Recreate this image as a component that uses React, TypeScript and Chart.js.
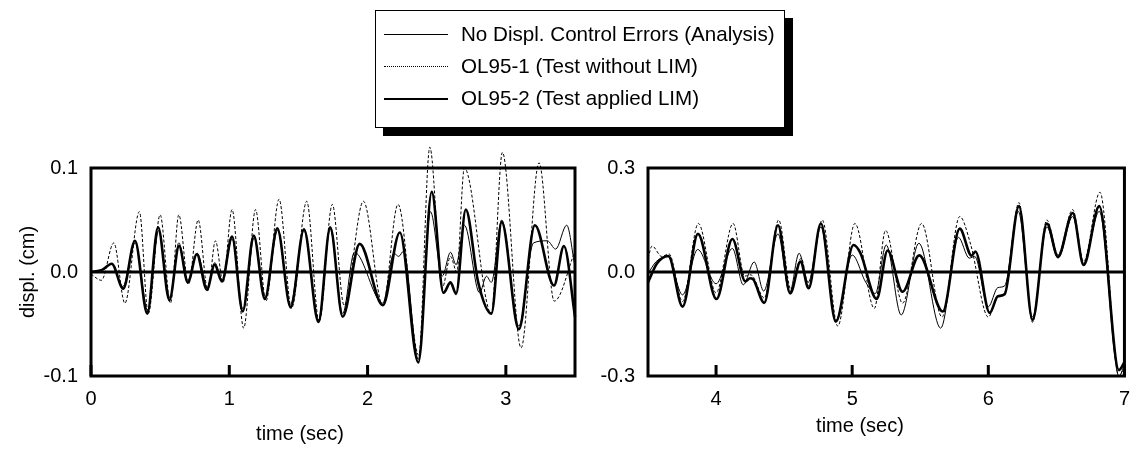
import React, { useEffect, useRef } from "react";
import { Chart, registerables } from "chart.js";

Chart.register(...registerables);

// ---------- Data ----------
// Left panel: 0 – 3.5 s, displ. in cm
const leftAnalysisTime = [0, 0.08, 0.15, 0.23, 0.32, 0.41, 0.49, 0.57, 0.635, 0.70, 0.77, 0.84, 0.895, 0.95, 1.02, 1.10, 1.18, 1.26, 1.35, 1.44, 1.54, 1.645, 1.73, 1.82, 1.905, 2.11, 2.19, 2.225, 2.26, 2.367, 2.455, 2.54, 2.60, 2.64, 2.70, 2.81, 2.86, 2.895, 2.97, 3.094, 3.20, 3.30, 3.36, 3.44, 3.50];
const leftAnalysisDispl = [0, 0.002, 0.008, -0.014, 0.028, -0.037, 0.040, -0.025, 0.028, -0.008, 0.018, -0.015, 0.009, -0.008, 0.032, -0.036, 0.033, -0.024, 0.040, -0.032, 0.040, -0.046, 0.041, -0.040, 0.019, -0.030, 0.018, 0.015, 0.020, -0.084, 0.058, -0.004, 0.019, 0.007, 0.045, -0.020, -0.004, -0.010, 0.050, -0.052, 0.028, 0.030, 0.022, 0.045, 0.005];

const leftOL1Time = [0, 0.075, 0.165, 0.245, 0.35, 0.414, 0.50, 0.575, 0.635, 0.705, 0.775, 0.845, 0.90, 0.955, 1.02, 1.104, 1.19, 1.265, 1.36, 1.45, 1.56, 1.65, 1.745, 1.83, 1.97, 2.11, 2.22, 2.37, 2.45, 2.54, 2.60, 2.645, 2.70, 2.895, 2.975, 3.11, 3.24, 3.35, 3.50];
const leftOL1Displ = [-0.002, -0.008, 0.028, -0.030, 0.058, -0.040, 0.055, -0.030, 0.055, -0.012, 0.050, -0.018, 0.030, -0.010, 0.060, -0.054, 0.060, -0.028, 0.070, -0.035, 0.068, -0.048, 0.065, -0.032, 0.068, -0.032, 0.065, -0.080, 0.120, -0.015, 0.015, 0.000, 0.100, -0.040, 0.115, -0.073, 0.105, -0.028, 0.020];

const leftOL2Time = [0, 0.08, 0.15, 0.233, 0.318, 0.407, 0.485, 0.567, 0.637, 0.70, 0.765, 0.838, 0.894, 0.947, 1.02, 1.097, 1.177, 1.257, 1.347, 1.444, 1.54, 1.645, 1.73, 1.82, 1.943, 2.11, 2.233, 2.367, 2.464, 2.549, 2.60, 2.64, 2.71, 2.80, 2.895, 2.97, 3.094, 3.21, 3.348, 3.42, 3.50];
const leftOL2Displ = [0, 0.002, 0.008, -0.016, 0.030, -0.040, 0.043, -0.027, 0.025, -0.010, 0.017, -0.017, 0.007, -0.009, 0.034, -0.038, 0.035, -0.026, 0.042, -0.034, 0.041, -0.048, 0.043, -0.043, 0.027, -0.032, 0.038, -0.087, 0.077, -0.020, -0.010, -0.021, 0.060, -0.010, -0.040, 0.048, -0.055, 0.045, -0.013, 0.025, -0.043];

// Right panel: 3.5 – 7 s, displ. in cm
const rightAnalysisTime = [3.50, 3.56, 3.645, 3.754, 3.865, 4.0, 4.12, 4.20, 4.28, 4.35, 4.455, 4.54, 4.61, 4.677, 4.77, 4.88, 5.0, 5.10, 5.17, 5.25, 5.36, 5.49, 5.65, 5.78, 5.86, 5.90, 6.0, 6.07, 6.12, 6.22, 6.325, 6.43, 6.512, 6.62, 6.70, 6.815, 6.96, 7.0];
const rightAnalysisDispl = [-0.005, 0.030, 0.045, -0.066, 0.065, -0.034, 0.068, -0.037, 0.029, -0.055, 0.110, -0.060, 0.054, -0.030, 0.130, -0.140, 0.049, -0.030, -0.062, 0.078, -0.124, 0.083, -0.162, 0.100, 0.040, 0.045, -0.100, -0.045, -0.040, 0.175, -0.130, 0.130, 0.040, 0.160, 0.025, 0.175, -0.300, -0.270];

const rightOL1Time = [3.50, 3.53, 3.60, 3.655, 3.754, 3.87, 4.0, 4.125, 4.21, 4.25, 4.27, 4.354, 4.46, 4.55, 4.625, 4.68, 4.78, 4.894, 5.02, 5.163, 5.245, 5.37, 5.51, 5.66, 5.79, 5.87, 6.0, 6.07, 6.12, 6.225, 6.325, 6.43, 6.512, 6.62, 6.70, 6.82, 6.96, 7.0];
const rightOL1Displ = [0.040, 0.075, 0.045, 0.052, -0.085, 0.140, -0.060, 0.140, -0.012, -0.008, -0.012, -0.075, 0.150, -0.050, 0.040, -0.040, 0.150, -0.156, 0.140, -0.105, 0.120, -0.090, 0.140, -0.130, 0.160, 0.080, -0.130, -0.070, -0.060, 0.200, -0.145, 0.150, 0.050, 0.180, 0.030, 0.230, -0.300, -0.270];

const rightOL2Time = [3.50, 3.567, 3.65, 3.754, 3.867, 4.003, 4.12, 4.215, 4.25, 4.27, 4.354, 4.455, 4.545, 4.62, 4.68, 4.77, 4.88, 5.01, 5.06, 5.18, 5.26, 5.37, 5.493, 5.665, 5.79, 5.877, 5.905, 6.01, 6.07, 6.12, 6.225, 6.325, 6.43, 6.512, 6.62, 6.70, 6.815, 6.96, 7.0];
const rightOL2Displ = [-0.030, 0.025, 0.046, -0.100, 0.110, -0.078, 0.095, -0.027, -0.018, -0.020, -0.089, 0.135, -0.062, 0.030, -0.047, 0.140, -0.143, 0.078, 0.055, -0.078, 0.062, -0.057, 0.048, -0.114, 0.125, 0.047, 0.059, -0.118, -0.070, -0.064, 0.190, -0.138, 0.140, 0.044, 0.170, 0.020, 0.190, -0.283, -0.260];

// Axes
const leftXRange = [0, 3.5];
const rightXRange = [3.5, 7];
const leftXTicks = [0, 1, 2, 3];
const rightXTicks = [4, 5, 6, 7];
const leftYTicks = [-0.1, 0, 0.1];
const rightYTicks = [-0.3, 0, 0.3];

const legendLabels = [
  "No Displ. Control Errors (Analysis)",
  "OL95-1 (Test without LIM)",
  "OL95-2 (Test applied LIM)",
];
const xTitle = "time (sec)";
const yTitle = "displ. (cm)";

const FONT = "'Liberation Sans', Arial, Helvetica, sans-serif";
Chart.defaults.font.family = FONT;
Chart.defaults.color = "#000";

const framePlugin = {
  id: "frame",
  afterDatasetsDraw(chart: any) {
    const { ctx, chartArea: a, scales } = chart;
    const xs = scales.x;
    const ys = scales.y;
    ctx.save();
    ctx.strokeStyle = "#000";
    ctx.lineWidth = 3;
    const y0 = ys.getPixelForValue(0);
    ctx.beginPath();
    ctx.moveTo(a.left, y0);
    ctx.lineTo(a.right, y0);
    ctx.stroke();
    xs.ticks.forEach((t: any) => {
      const px = xs.getPixelForValue(t.value);
      ctx.beginPath();
      ctx.moveTo(px, a.bottom);
      ctx.lineTo(px, a.bottom - 11);
      ctx.stroke();
    });
    ctx.strokeRect(a.left, a.top, a.right - a.left, a.bottom - a.top);
    ctx.restore();
  },
};

function pts(t: number[], v: number[]) {
  return t.map((x, i) => ({ x, y: v[i] }));
}

function makeConfig(p: {
  series: { t: number[]; v: number[] }[];
  xRange: number[];
  xTicks: number[];
  yTicks: number[];
  yWidth: number;
  yTitle?: string;
  padRight: number;
}) {
  const styles = [
    { borderWidth: 1, borderDash: [] as number[] },
    { borderWidth: 1, borderDash: [3, 2] },
    { borderWidth: 2.6, borderDash: [] as number[] },
  ];
  const yMax = p.yTicks[p.yTicks.length - 1];
  return {
    type: "line" as const,
    data: {
      datasets: p.series.map((s, i) => ({
        label: legendLabels[i],
        data: pts(s.t, s.v),
        borderColor: "#000",
        borderWidth: styles[i].borderWidth,
        borderDash: styles[i].borderDash,
        pointRadius: 0,
        fill: false,
        cubicInterpolationMode: "monotone" as const,
        clip: false as any,
      })),
    },
    options: {
      responsive: false,
      animation: false as const,
      devicePixelRatio: 1,
      layout: { padding: { top: 168, right: p.padRight, left: 0, bottom: 0 } },
      plugins: { legend: { display: false }, tooltip: { enabled: false } },
      scales: {
        x: {
          type: "linear" as const,
          min: p.xRange[0],
          max: p.xRange[1],
          grid: { display: false, drawTicks: false },
          border: { display: false },
          afterBuildTicks: (s: any) => {
            s.ticks = p.xTicks.map((value) => ({ value }));
          },
          afterFit: (s: any) => {
            s.height = 77;
          },
          ticks: {
            padding: 11,
            font: { size: 20 },
            color: "#000",
            maxRotation: 0,
            callback: (v: any) => String(v),
          },
        },
        y: {
          type: "linear" as const,
          min: -yMax,
          max: yMax,
          grid: { display: false, drawTicks: false },
          border: { display: false },
          afterBuildTicks: (s: any) => {
            s.ticks = p.yTicks.map((value) => ({ value }));
          },
          afterFit: (s: any) => {
            s.width = p.yWidth;
          },
          title: p.yTitle
            ? { display: true, text: p.yTitle, font: { size: 20 }, color: "#000", padding: { top: 16, bottom: 0 } }
            : { display: false },
          ticks: {
            padding: 13,
            font: { size: 20 },
            color: "#000",
            callback: (v: any) => Number(v).toFixed(1),
          },
        },
      },
    },
    plugins: [framePlugin],
  };
}

function Panel(props: { left: number; width: number; config: any }) {
  const ref = useRef<HTMLCanvasElement | null>(null);
  useEffect(() => {
    if (!ref.current) return;
    const chart = new Chart(ref.current, props.config);
    return () => chart.destroy();
  }, []);
  return (
    <canvas
      ref={ref}
      width={props.width}
      height={453}
      style={{ position: "absolute", left: props.left, top: 0, width: props.width, height: 453 }}
    />
  );
}

export default function App() {
  const leftConfig = makeConfig({
    series: [
      { t: leftAnalysisTime, v: leftAnalysisDispl },
      { t: leftOL1Time, v: leftOL1Displ },
      { t: leftOL2Time, v: leftOL2Displ },
    ],
    xRange: leftXRange,
    xTicks: leftXTicks,
    yTicks: leftYTicks,
    yWidth: 91,
    yTitle,
    padRight: 25,
  });
  const rightConfig = makeConfig({
    series: [
      { t: rightAnalysisTime, v: rightAnalysisDispl },
      { t: rightOL1Time, v: rightOL1Displ },
      { t: rightOL2Time, v: rightOL2Displ },
    ],
    xRange: rightXRange,
    xTicks: rightXTicks,
    yTicks: rightYTicks,
    yWidth: 48,
    padRight: 5,
  });

  const lineStyles = [
    { borderTop: "1px solid #000" },
    { borderTop: "1px dotted #000" },
    { borderTop: "2.5px solid #000" },
  ];

  return (
    <div
      style={{
        position: "fixed",
        left: 0,
        top: 0,
        width: 1141,
        height: 453,
        background: "#fff",
        overflow: "hidden",
        fontFamily: FONT,
      }}
    >
      <Panel left={0} width={600} config={leftConfig} />
      <Panel left={600} width={541} config={rightConfig} />
      <div
        style={{
          position: "absolute",
          left: 300,
          top: 421,
          transform: "translateX(-50%)",
          fontSize: 20,
          whiteSpace: "nowrap",
          lineHeight: "24px",
        }}
      >
        {xTitle}
      </div>
      <div
        style={{
          position: "absolute",
          left: 860,
          top: 413,
          transform: "translateX(-50%)",
          fontSize: 20,
          whiteSpace: "nowrap",
          lineHeight: "24px",
        }}
      >
        {xTitle}
      </div>
      <div
        style={{
          position: "absolute",
          left: 375,
          top: 10,
          width: 410,
          height: 118,
          boxSizing: "border-box",
          border: "1px solid #000",
          background: "#fff",
          boxShadow: "8px 8px 0 #000",
        }}
      >
        {legendLabels.map((label, i) => (
          <div
            key={label}
            style={{
              position: "absolute",
              left: 0,
              top: 11 + i * 32,
              height: 24,
              width: "100%",
            }}
          >
            <div style={{ position: "absolute", left: 8, width: 64, top: 12, ...lineStyles[i] }} />
            <div style={{ position: "absolute", left: 85, top: 0, fontSize: 20.6, lineHeight: "24px", whiteSpace: "nowrap" }}>
              {label}
            </div>
          </div>
        ))}
      </div>
    </div>
  );
}
